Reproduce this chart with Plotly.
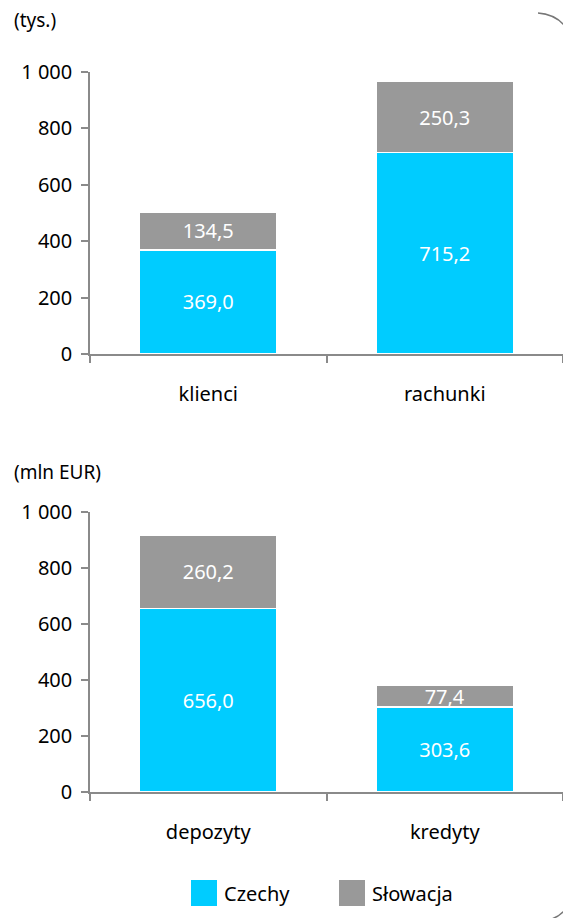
import plotly.graph_objects as go

# ---- data ----
top_categories = ["klienci", "rachunki"]
top_czechy = [369.0, 715.2]
top_slowacja = [134.5, 250.3]

bottom_categories = ["depozyty", "kredyty"]
bottom_czechy = [656.0, 303.6]
bottom_slowacja = [260.2, 77.4]

series_names = ["Czechy", "Słowacja"]
series_colors = ["#00CCFF", "#999999"]

top_unit = "(tys.)"
bottom_unit = "(mln EUR)"
y_ticks = [0, 200, 400, 600, 800, 1000]

# ---- layout helpers ----
# the page body has an 8px margin, so page pixel p maps to figure pixel p - 8
OFF = 8
W, H = 571, 918
ML = 90 - OFF
MT = 72 - OFF
MR = W - (563 - OFF)
MB = H - (792 - OFF)
PW, PH = W - ML - MR, H - MT - MB


def px(x):  # page x pixel -> paper
    return (x - OFF - ML) / PW


def py(y):  # page y pixel -> paper
    return (H - MB - (y - OFF)) / PH


FONT = "Noto Sans"
AXIS_COLOR = "#8a8a8a"

fig = go.Figure()


def add_bars(cats, czechy, slowacja, xa, ya):
    for name, vals, col in zip(series_names, [czechy, slowacja], series_colors):
        fig.add_trace(go.Bar(
            x=cats, y=vals, name=name, xaxis=xa, yaxis=ya,
            marker=dict(color=col, line=dict(color="white", width=1.5)),
            width=0.58,
            text=vals, texttemplate="%{y:.1f}",
            textposition="inside", insidetextanchor="middle",
            constraintext="none", textangle=0,
            textfont=dict(color="white", size=20, family=FONT),
            showlegend=False, hoverinfo="skip",
        ))


add_bars(top_categories, top_czechy, top_slowacja, "x", "y")
add_bars(bottom_categories, bottom_czechy, bottom_slowacja, "x2", "y2")

xaxis_common = dict(
    showline=True, linecolor=AXIS_COLOR, linewidth=1.5,
    ticks="outside", tickson="boundaries", ticklen=7, tickwidth=1.5,
    tickcolor=AXIS_COLOR, showgrid=False, zeroline=False,
    tickfont=dict(size=20, family=FONT, color="black"),
    ticklabelstandoff=21,
)
yaxis_common = dict(
    range=[0, 1000], tickvals=y_ticks, separatethousands=True,
    showline=True, linecolor=AXIS_COLOR, linewidth=1.5,
    ticks="outside", ticklen=7, tickwidth=1.5, tickcolor=AXIS_COLOR,
    showgrid=False, zeroline=False,
    tickfont=dict(size=20, family=FONT, color="black"),
    ticklabelstandoff=5,
)

fig.update_layout(
    width=W, height=H,
    margin=dict(l=ML, r=MR, t=MT, b=MB),
    paper_bgcolor="white", plot_bgcolor="white",
    barmode="stack", bargap=0.42,
    separators=", ",
    font=dict(family=FONT, size=20, color="black"),
    xaxis=dict(domain=[0, 1], anchor="y", **xaxis_common),
    yaxis=dict(domain=[py(354), 1], anchor="x", **yaxis_common),
    xaxis2=dict(domain=[0, 1], anchor="y2", **xaxis_common),
    yaxis2=dict(domain=[0, py(512)], anchor="x2", **yaxis_common),
    showlegend=False,
)

# unit labels
fig.add_annotation(text=top_unit, xref="paper", yref="paper", x=px(12), y=py(20),
                   xanchor="left", yanchor="middle", showarrow=False,
                   font=dict(size=19, family=FONT, color="black"))
fig.add_annotation(text=bottom_unit, xref="paper", yref="paper", x=px(12), y=py(472),
                   xanchor="left", yanchor="middle", showarrow=False,
                   font=dict(size=19, family=FONT, color="black"))

# legend (manual, large swatches)
legend_swatch_x = [191, 339]
for name, col, sx in zip(series_names, series_colors, legend_swatch_x):
    fig.add_shape(type="rect", xref="paper", yref="paper",
                  x0=px(sx), x1=px(sx + 26), y0=py(906), y1=py(880),
                  fillcolor=col, line=dict(width=0))
    fig.add_annotation(text=name, xref="paper", yref="paper",
                       x=px(sx + 31), y=py(893), xanchor="left", yanchor="middle",
                       showarrow=False, font=dict(size=20, family=FONT, color="black"))


# decorative rounded corners of the frame
def path(points):
    (x0, y0), (cx, cy), (x1, y1) = points
    return f"M {px(x0)},{py(y0)} Q {px(cx)},{py(cy)} {px(x1)},{py(y1)}"


fig.add_shape(type="path", xref="paper", yref="paper",
              path=path([(538, 13), (564, 15), (572, 40)]),
              line=dict(color="#777777", width=1.5))
fig.add_shape(type="path", xref="paper", yref="paper",
              path=path([(572, 894), (568, 913), (552, 919)]),
              line=dict(color="#777777", width=1.5))

fig.write_html("out.html")
